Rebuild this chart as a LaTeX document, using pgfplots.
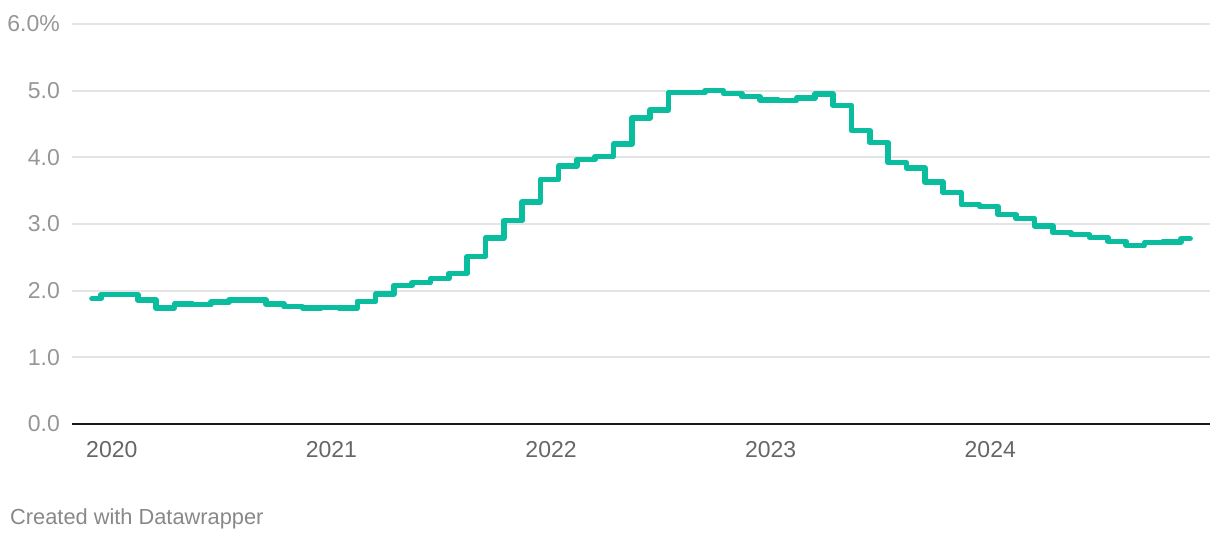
\documentclass[border=0pt]{standalone}
\usepackage{fontspec}
\setmainfont{Liberation Sans}
\usepackage{pgfplots}
\pgfplotsset{compat=1.18}
\definecolor{dwgreen}{RGB}{9,189,158}
\definecolor{gridgray}{RGB}{228,228,228}
\definecolor{ylabgray}{RGB}{150,150,150}
\definecolor{xlabgray}{RGB}{102,102,102}
\definecolor{footgray}{RGB}{136,136,136}
\begin{document}
\begin{tikzpicture}[x=1pt,y=1pt]
\path[use as bounding box] (0,0) rectangle (1220,540);
\begin{axis}[
  at={(72pt,116pt)}, anchor=south west,
  scale only axis, width=1138pt, height=400pt,
  xmin=-1.093, xmax=61.09, ymin=0, ymax=6,
  axis lines*=left,
  separate axis lines,
  x axis line style={draw=black!90, line width=2pt, -},
  y axis line style={draw=none, -},
  major tick length=0pt,
  ytick={0,1,2,3,4,5,6},
  yticklabels={0.0,1.0,2.0,3.0,4.0,5.0,6.0\%},
  ymajorgrids,
  grid style={draw=gridgray, line width=1.8pt},
  xtick={1,13,25,37,49},
  xticklabels={2020,2021,2022,2023,2024},
  /pgf/number format/assume math mode=true,
  tick label style={font=\fontsize{23}{23}\selectfont},
  xticklabel style={anchor=center, inner sep=0pt, yshift=-26pt, xshift=1.5pt, text=xlabgray},
  yticklabel style={anchor=east, inner sep=0pt, xshift=-12pt, text=ylabgray},
]
\addplot[dwgreen, line width=5.6pt, const plot mark mid, line join=round, line cap=round] coordinates {
(0,1.88) (1,1.94) (2,1.94) (3,1.86) (4,1.74) (5,1.80) (6,1.79) (7,1.83) (8,1.86) (9,1.86)
(10,1.80) (11,1.76) (12,1.74) (13,1.75) (14,1.74) (15,1.84) (16,1.95) (17,2.08) (18,2.12) (19,2.18)
(20,2.26) (21,2.51) (22,2.79) (23,3.05) (24,3.33) (25,3.67) (26,3.87) (27,3.97) (28,4.01) (29,4.20)
(30,4.59) (31,4.71) (32,4.97) (33,4.97) (34,5.00) (35,4.96) (36,4.91) (37,4.86) (38,4.85) (39,4.89)
(40,4.95) (41,4.78) (42,4.40) (43,4.22) (44,3.92) (45,3.84) (46,3.63) (47,3.47) (48,3.29) (49,3.26)
(50,3.14) (51,3.08) (52,2.97) (53,2.87) (54,2.84) (55,2.80) (56,2.74) (57,2.68) (58,2.72) (59,2.73)
(60,2.78)
};
\end{axis}
\node[anchor=base west, inner sep=0pt, text=footgray, font=\fontsize{21.8}{21.8}\selectfont] at (10,15) {Created with Datawrapper};
\end{tikzpicture}
\end{document}
